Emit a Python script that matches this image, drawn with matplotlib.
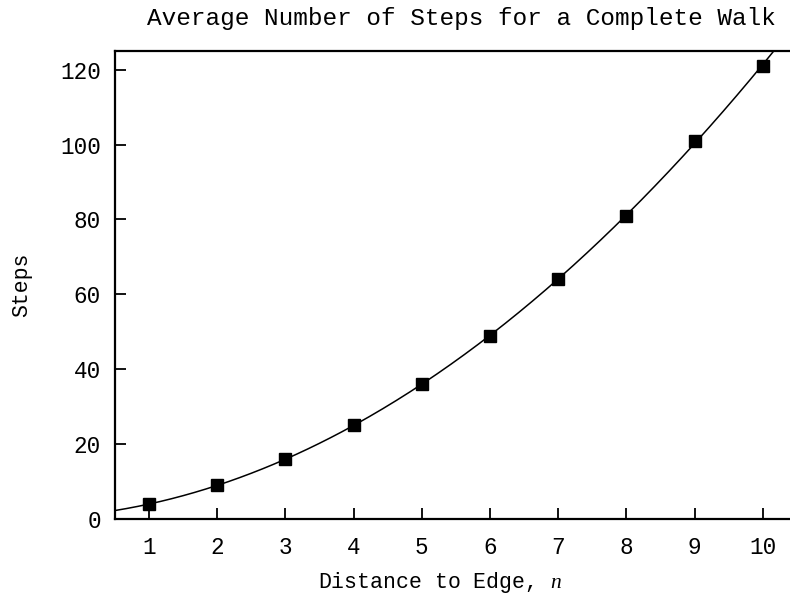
import numpy as np
import matplotlib.pyplot as plt

# Data
distance = [1, 2, 3, 4, 5, 6, 7, 8, 9, 10]
steps = [4, 9, 16, 25, 36, 49, 64, 81, 101, 121]
x_ticks = [1, 2, 3, 4, 5, 6, 7, 8, 9, 10]
y_ticks = [0, 20, 40, 60, 80, 100, 120]

plt.rcParams['font.family'] = ['Liberation Mono', 'DejaVu Sans Mono']
plt.rcParams['font.size'] = 15.5
plt.rcParams['mathtext.fontset'] = 'custom'
plt.rcParams['mathtext.it'] = 'Liberation Serif:italic'
plt.rcParams['mathtext.rm'] = 'Liberation Serif'

fig = plt.figure(figsize=(7.9, 5.96), dpi=100)
ax = fig.add_axes([115 / 790, 1 - 519 / 596, 675 / 790, 468 / 596])

# quadratic fit through the points for the smooth curve
coef = np.polyfit(distance, steps, 2)
xs = np.linspace(0.5, 10.45, 300)
ax.plot(xs, np.polyval(coef, xs), color='black', lw=1.1)
ax.plot(distance, steps, 's', color='black', markersize=8.5)

ax.set_xlim(0.5, 10.4)
ax.set_ylim(0, 125)
ax.set_xticks(x_ticks)
ax.set_yticks(y_ticks)
ax.tick_params(direction='in', length=8, width=1.3, color='black',
               labelsize=16.3)
ax.tick_params(axis='x', pad=12)
ax.tick_params(axis='y', pad=10)
ax.spines['right'].set_visible(False)
for s in ['left', 'bottom', 'top']:
    ax.spines[s].set_linewidth(1.6)

ax.set_title('Average Number of Steps for a Complete Walk', pad=19,
             fontsize=17.6, x=0.513)
ax.set_xlabel('Distance to Edge, $n$', labelpad=8, x=0.482)
ax.set_ylabel('Steps', labelpad=20)

fig.savefig('out.png', dpi=100)
